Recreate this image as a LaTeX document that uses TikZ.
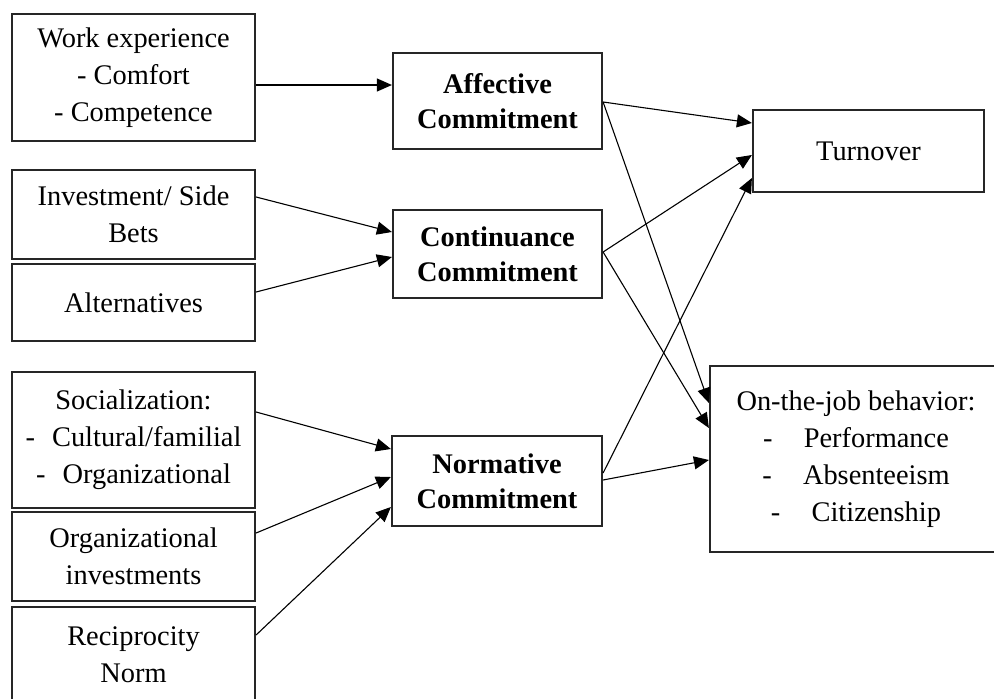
\documentclass[tikz,border=0pt]{standalone}
\usepackage{fontspec}
\setmainfont{Liberation Serif}
\usetikzlibrary{arrows.meta}
\begin{document}
\begin{tikzpicture}[x=1pt,y=-1pt,
 box/.style={draw=black!85,line width=2.2pt,align=center,inner sep=0pt,font=\fontsize{28.4}{37}\selectfont},
 bbox/.style={box,font=\fontsize{28.4}{35}\selectfont\bfseries},
 arr/.style={line width=1.1pt,-{Triangle[length=15pt,width=13pt]}}]
\fill[white] (0,0) rectangle (994,699);
\clip (0,0) rectangle (994,699);
% left column
\node[box,minimum width=243pt,minimum height=127pt] (work) at (133.5,77.5) {Work experience\\- Comfort\hspace{0.6em}\\- Competence\hspace{0.6em}};
\node[box,minimum width=243pt,minimum height=89pt] (invest) at (133.5,214.5) {Investment/ Side\\Bets};
\node[box,minimum width=243pt,minimum height=77pt] (alt) at (133.5,302.5) {Alternatives};
\node[box,minimum width=243pt,minimum height=136pt] (soc) at (133.5,440) {Socialization:\\-\hspace{0.6em}Cultural/familial\\-\hspace{0.6em}Organizational};
\node[box,minimum width=243pt,minimum height=89pt] (orginv) at (133.5,556.5) {Organizational\\investments};
\node[box,minimum width=243pt,minimum height=96pt] (recip) at (133.5,655) {Reciprocity\\Norm};
% middle column
\node[bbox,minimum width=209pt,minimum height=96pt] (aff) at (497.5,101) {Affective\\Commitment};
\node[bbox,minimum width=209pt,minimum height=88pt] (cont) at (497.5,254) {Continuance\\Commitment};
\node[bbox,minimum width=210pt,minimum height=90pt] (norm) at (497,481) {Normative\\Commitment};
% right column
\node[box,minimum width=231pt,minimum height=82pt] (turn) at (868.5,151) {Turnover};
\node[box,minimum width=292pt,minimum height=186pt] (job) at (856,459) {On-the-job behavior:\\-\hspace{1.1em}Performance\\-\hspace{1.1em}Absenteeism\\-\hspace{1.1em}Citizenship};
% connectors
\draw[arr] (work.east |- 0,85) -- (aff.west |- 0,85);
\draw[arr] (invest.east |- 0,197) -- (cont.west |- 0,232);
\draw[arr] (alt.east |- 0,292) -- (cont.west |- 0,257);
\draw[arr] (soc.east |- 0,412) -- (norm.west |- 0,449);
\draw[arr] (orginv.east |- 0,533) -- (norm.west |- 0,477);
\draw[arr] (recip.east |- 0,635) -- (norm.west |- 0,507);
\draw[arr] (aff.east |- 0,102) -- (turn.west |- 0,123);
\draw[arr] (aff.east |- 0,102) -- (job.west |- 0,403);
\draw[arr] (cont.east |- 0,252) -- (turn.west |- 0,155);
\draw[arr] (cont.east |- 0,252) -- (job.west |- 0,428);
\draw[arr] (norm.east |- 0,473) -- (turn.west |- 0,178);
\draw[arr] (norm.east |- 0,480) -- (job.west |- 0,460);
\end{tikzpicture}
\end{document}
